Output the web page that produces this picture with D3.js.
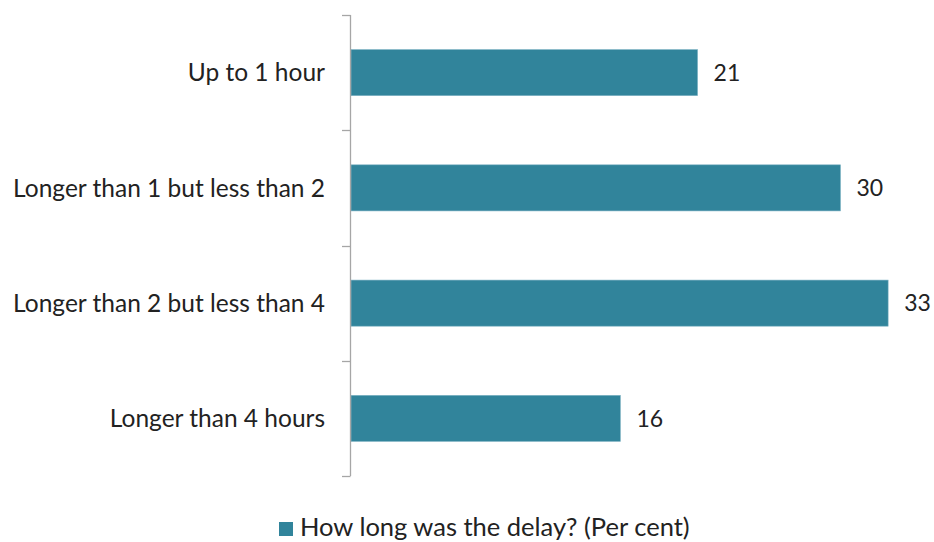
<!DOCTYPE html>
<html><head><meta charset="utf-8">
<script src="https://cdn.jsdelivr.net/npm/d3@7"></script>
<style>body{margin:0;background:#fff}svg{display:block}text{font-family:Lato,"Open Sans",sans-serif;fill:#222}</style>
</head><body><svg id="c" width="934" height="542"></svg>
<script>
const categories = ["Up to 1 hour","Longer than 1 but less than 2","Longer than 2 but less than 4","Longer than 4 hours"];
const values = [21.1, 29.8, 32.7, 16.4];
const valueLabels = ["21","30","33","16"];
const seriesName = "How long was the delay? (Per cent)";

const svg = d3.select("#c");
const x = d3.scaleLinear().domain([0, 35]).range([351, 351 + 35*16.426]);
const y = d3.scaleBand().domain(categories).range([15, 476]).paddingInner(0.6).paddingOuter(0.3);
const color = "#31849b";

// bars
svg.selectAll("rect.bar").data(categories).join("rect").attr("class","bar")
  .attr("x", x(0)).attr("y", d => y(d))
  .attr("width", (d,i) => x(values[i]) - x(0)).attr("height", y.bandwidth())
  .attr("fill", color).attr("stroke","#7fb3c4").attr("stroke-width",0.6);

// value labels
svg.selectAll("text.val").data(categories).join("text").attr("class","val")
  .attr("x", (d,i) => x(values[i]) + 16).attr("y", d => y(d) + y.bandwidth()/2)
  .attr("dy","0.36em").attr("font-size", 23).text((d,i) => valueLabels[i]);

// axis line and ticks at category boundaries
const step = y.step();
const r0 = y.range()[0];
svg.append("line").attr("x1",350.5).attr("x2",350.5).attr("y1",r0).attr("y2",r0+step*4)
  .attr("stroke","#a6a6a6").attr("stroke-width",1.3);
svg.selectAll("line.tick").data(d3.range(categories.length+1)).join("line").attr("class","tick")
  .attr("x1",342).attr("x2",350.5).attr("y1",i => Math.round(r0+i*step)+0.5).attr("y2",i => Math.round(r0+i*step)+0.5)
  .attr("stroke","#a6a6a6").attr("stroke-width",1.3);

// category labels
svg.selectAll("text.cat").data(categories).join("text").attr("class","cat")
  .attr("x", 325).attr("y", d => y(d) + y.bandwidth()/2).attr("dy","0.36em")
  .attr("text-anchor","end").attr("font-size",24.5).text(d => d);

// legend
svg.append("rect").attr("x",279).attr("y",522).attr("width",14).attr("height",14).attr("fill",color);
svg.append("text").attr("x",300).attr("y",536).attr("font-size",25.5).text(seriesName);
</script></body></html>
